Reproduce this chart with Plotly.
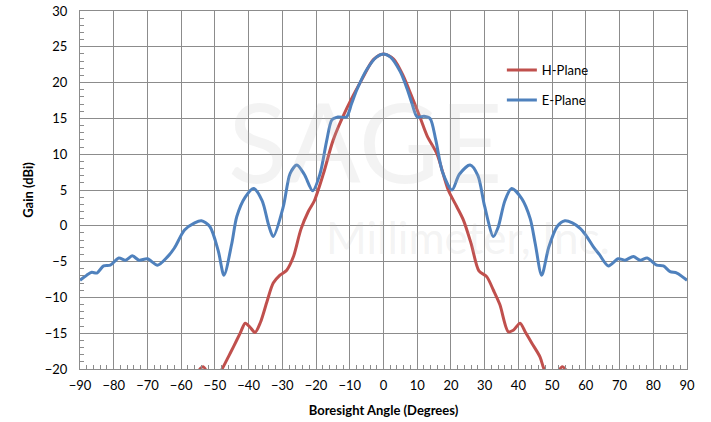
import plotly.graph_objects as go

# E-Plane (blue)
e_angles = [-90, -88, -86.5, -85, -83, -81, -78.5, -76.5, -74.5, -72.5, -70, -67, -64, -62, -59, -56, -54,
            -51.5, -49, -47.3, -45, -43.5, -41, -38.5, -36, -34, -32.7, -29.7, -27.7, -25.7, -23.5, -21,
            -18.8, -16.8, -15.3, -13.5, -11, -9.5, -7.9, -5, -2, 0,
            2, 5, 7.1, 8.5, 10, 12, 13.8, 15.5, 17.5, 20.3, 22.5, 25.7, 28, 30, 32.6, 34, 36, 38, 41, 43.5,
            45, 46.9, 49, 51.5, 53.8, 56, 58.3, 60, 62.2, 64, 66.7, 69.6, 71.6, 74.1, 76.1, 78.2, 81, 83, 85,
            87, 90]
e_gain = [-7.6, -6.9, -6.5, -6.6, -5.6, -5.5, -4.5, -4.8, -4.2, -4.8, -4.6, -5.5, -4.3, -3.1, -0.6, 0.4, 0.7,
          -0.1, -3.5, -6.9, -2.5, 1.3, 4.0, 5.2, 3.5, 0.0, -1.5, 2.7, 7.3, 8.5, 7.2, 4.9,
          7.3, 12.0, 14.8, 15.2, 15.2, 17.0, 19.0, 21.8, 23.6, 24.0,
          23.6, 21.5, 19.0, 17.0, 15.2, 15.3, 15.0, 12.0, 7.5, 5.0, 7.2, 8.5, 7.0, 2.7, -1.5, -0.2, 3.5, 5.2,
          3.8, 1.0, -2.5, -6.9, -3.0, -0.1, 0.7, 0.4, -0.35, -1.3, -2.9, -4.0, -5.6, -4.6, -4.8, -4.3, -4.8,
          -4.5, -5.5, -5.6, -6.4, -6.6, -7.6]

# H-Plane (red)
h_angles = [-60, -56.5, -53.5, -50.5, -48, -46, -44.5, -42.5, -41, -39.5, -38.1, -36.5, -34.5, -32.7, -30.7,
            -28.7, -26.7, -24.5, -22.3, -20.5, -17.8, -14.9, -10.9, -6, -3, 0,
            3, 6, 8, 10.8, 13, 15.8, 19.2, 21.7, 23.7, 26, 28.3, 30.6, 32.6, 34.5, 37, 38.5, 40.5, 42, 44,
            46.4, 47.6, 50, 53, 56, 60]
h_gain = [-26, -21.5, -19.7, -21.8, -20.1, -18.3, -16.9, -15.0, -13.6, -14.2, -14.9, -13.5, -10.5, -8.0, -6.9,
          -6.2, -4.3, -0.5, 2.0, 3.5, 7.3, 12.0, 16.4, 20.8, 23.2, 24.0,
          23.3, 20.8, 18.5, 15.2, 12.5, 10.1, 5.0, 2.7, 0.8, -2.5, -6.3, -7.1, -9.0, -11.0, -14.8, -14.6,
          -13.6, -14.8, -16.4, -18.3, -20.0, -21.8, -19.7, -21.5, -26]

x_ticks = list(range(-90, 91, 10))
y_ticks = list(range(-20, 31, 5))

FONT = "Lato, 'Open Sans', sans-serif"

fig = go.Figure()
fig.add_trace(go.Scatter(x=h_angles, y=h_gain, mode="lines", name="H-Plane",
                         line=dict(color="#C0504D", width=3, shape="spline", smoothing=0.8),
                         legendgroup="h"))
fig.add_trace(go.Scatter(x=e_angles, y=e_gain, mode="lines", name="E-Plane",
                         line=dict(color="#4F81BD", width=3, shape="spline", smoothing=0.8),
                         legendgroup="e"))

# faint watermark
fig.add_annotation(text="SAGE", x=0.47, y=0.64, xref="paper", yref="paper", showarrow=False,
                   font=dict(family=FONT, size=110, color="rgba(190,190,190,0.18)"))
fig.add_annotation(text="Millimeter, Inc.", x=0.64, y=0.37, xref="paper", yref="paper", showarrow=False,
                   font=dict(family=FONT, size=44, color="rgba(190,190,190,0.18)"))

fig.update_layout(
    width=711, height=422,
    margin=dict(l=80, r=24, t=11, b=53, autoexpand=False),
    paper_bgcolor="white", plot_bgcolor="white",
    font=dict(family=FONT, size=13, color="#000000"),
    showlegend=True,
    legend=dict(x=0.695, y=0.877, xanchor="left", yanchor="top", bgcolor="rgba(0,0,0,0)",
                font=dict(family=FONT, size=13), tracegroupgap=10, traceorder="grouped",
                itemwidth=30),
    xaxis=dict(range=[-90, 90], tickvals=x_ticks, showgrid=True, gridcolor="#8c8c8c", gridwidth=1,
               zeroline=False, showline=True, linecolor="#8c8c8c", mirror=True, automargin=False,
               ticks="inside", ticklen=5, tickcolor="#8c8c8c", ticklabelstandoff=4,
               minor=dict(dtick=2, ticks="inside", ticklen=4, tickcolor="#8c8c8c", showgrid=False),
               title=dict(text="<b>Boresight Angle (Degrees)</b>", font=dict(size=13), standoff=14),
               tickfont=dict(size=13)),
    yaxis=dict(range=[-20, 30], tickvals=y_ticks, showgrid=True, gridcolor="#8c8c8c", gridwidth=1,
               zeroline=False, showline=True, linecolor="#8c8c8c", mirror=True, automargin=False,
               ticks="inside", ticklen=5, tickcolor="#8c8c8c", ticklabelstandoff=9,
               minor=dict(dtick=1, ticks="inside", ticklen=4, tickcolor="#8c8c8c", showgrid=False),
               title=dict(text="<b>Gain (dBi)</b>", font=dict(size=13), standoff=8),
               tickfont=dict(size=13)),
)

fig.write_html("out.html", config={"displayModeBar": False},
               post_script="document.body.style.margin='0';document.body.style.overflow='hidden';")
